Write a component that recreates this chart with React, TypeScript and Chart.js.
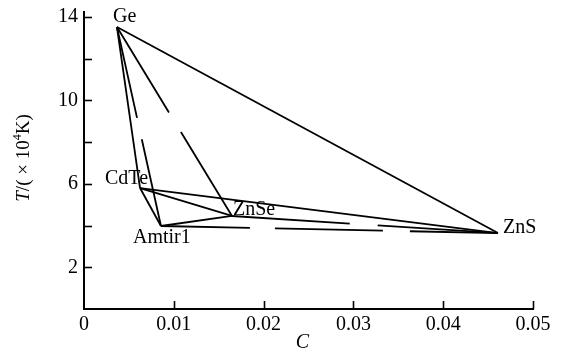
import React, { useEffect, useRef } from "react";
import { Chart, registerables } from "chart.js";

Chart.register(...registerables);

const materials = ["Ge", "CdTe", "Amtir1", "ZnSe", "ZnS"];
const cValues = [0.00367, 0.00624, 0.00857, 0.01648, 0.0461];
const tValues = [13.52, 5.8, 3.98, 4.46, 3.64];

const solidEdges = [
  ["Ge", "ZnS"],
  ["Ge", "CdTe"],
  ["CdTe", "Amtir1"],
  ["CdTe", "ZnSe"],
  ["CdTe", "ZnS"],
  ["Amtir1", "ZnSe"],
];
const dashedEdges = [
  ["Ge", "ZnSe"],
  ["Ge", "Amtir1"],
  ["ZnSe", "ZnS"],
  ["Amtir1", "ZnS"],
];

const xTickValues = [0, 0.01, 0.02, 0.03, 0.04, 0.05];
const xTickLabels = ["0", "0.01", "0.02", "0.03", "0.04", "0.05"];
const yTickValues = [2, 4, 6, 8, 10, 12, 14];
const yLabelValues = [2, 6, 10, 14];
const yLabels = ["2", "6", "10", "14"];

const FONT = "'Liberation Serif', 'Times New Roman', serif";

const dashStyles: Record<string, number[]> = {
  "Ge-ZnSe": [100, 23],
  "Ge-Amtir1": [93, 22],
  "ZnSe-ZnS": [118, 28],
  "Amtir1-ZnS": [89, 25, 108, 27],
};

const labelOffsets: Record<string, { dx: number; dy: number; align: CanvasTextAlign }> = {
  Ge: { dx: -4, dy: -5, align: "left" },
  CdTe: { dx: 8, dy: -4, align: "right" },
  Amtir1: { dx: -28, dy: 17, align: "left" },
  ZnSe: { dx: 1, dy: -1, align: "left" },
  ZnS: { dx: 5, dy: 0, align: "left" },
};

function pt(name: string) {
  const i = materials.indexOf(name);
  return { x: cValues[i], y: tValues[i] };
}

const overlay = {
  id: "overlay",
  afterDraw(chart: any) {
    const ctx = chart.ctx as CanvasRenderingContext2D;
    const xs = chart.scales.x;
    const ys = chart.scales.y;
    const area = chart.chartArea;
    ctx.save();
    ctx.strokeStyle = "#000";
    ctx.lineWidth = 1.6;
    yTickValues.forEach((v) => {
      const py = Math.round(ys.getPixelForValue(v)) + 0.5;
      ctx.beginPath();
      ctx.moveTo(area.left, py);
      ctx.lineTo(area.left + 8, py);
      ctx.stroke();
    });
    xTickValues.slice(1).forEach((v) => {
      const px = Math.round(xs.getPixelForValue(v)) + 0.5;
      ctx.beginPath();
      ctx.moveTo(px, area.bottom);
      ctx.lineTo(px, area.bottom - 8);
      ctx.stroke();
    });
    ctx.fillStyle = "#000";
    ctx.font = `20px ${FONT}`;
    ctx.textBaseline = "alphabetic";
    materials.forEach((m, i) => {
      const o = labelOffsets[m];
      const px = xs.getPixelForValue(cValues[i]);
      const py = ys.getPixelForValue(tValues[i]);
      ctx.textAlign = o.align;
      ctx.fillText(m, px + o.dx, py + o.dy);
    });
    ctx.textAlign = "center";
    ctx.font = `italic 20px ${FONT}`;
    ctx.fillText("C", (area.left + area.right) / 2 - 6, 348);
    const parts = [
      { t: "T", f: `italic 19px ${FONT}`, dy: 0 },
      { t: "/( × 10", f: `19px ${FONT}`, dy: 0 },
      { t: "4", f: `12px ${FONT}`, dy: -8 },
      { t: "K)", f: `19px ${FONT}`, dy: 0 },
    ];
    let total = 0;
    parts.forEach((p) => {
      ctx.font = p.f;
      total += ctx.measureText(p.t).width;
    });
    ctx.translate(29, 158 + total / 2);
    ctx.rotate(-Math.PI / 2);
    ctx.textAlign = "left";
    let x = 0;
    parts.forEach((p) => {
      ctx.font = p.f;
      ctx.fillText(p.t, x, p.dy);
      x += ctx.measureText(p.t).width;
    });
    ctx.restore();
  },
};

export default function App() {
  const ref = useRef<HTMLCanvasElement>(null);
  useEffect(() => {
    if (!ref.current) return;
    const datasets: any[] = [];
    solidEdges.forEach(([a, b]) => {
      datasets.push({
        data: [pt(a), pt(b)],
        borderColor: "#000",
        borderWidth: 1.8,
        showLine: true,
        pointRadius: 0,
        fill: false,
      });
    });
    dashedEdges.forEach(([a, b]) => {
      datasets.push({
        data: [pt(a), pt(b)],
        borderColor: "#000",
        borderWidth: 1.8,
        borderDash: dashStyles[`${a}-${b}`],
        showLine: true,
        pointRadius: 0,
        fill: false,
      });
    });
    const chart = new Chart(ref.current, {
      type: "scatter",
      data: { datasets },
      options: {
        animation: false,
        responsive: false,
        layout: { padding: { top: 12, right: 33, left: 0, bottom: 0 } },
        plugins: { legend: { display: false }, tooltip: { enabled: false } },
        scales: {
          x: {
            type: "linear",
            min: 0,
            max: 0.05,
            grid: { display: false, drawTicks: false },
            border: { display: true, color: "#000", width: 2 },
            afterBuildTicks: (s: any) => {
              s.ticks = xTickValues.map((v) => ({ value: v }));
            },
            afterFit: (s: any) => {
              s.height = 43;
              s.paddingLeft = 0;
              s.paddingRight = 0;
            },
            ticks: {
              color: "#000",
              padding: 4,
              maxRotation: 0,
              autoSkip: false,
              font: { family: FONT, size: 20 },
              callback: (v: any) => {
                const i = xTickValues.findIndex((t) => Math.abs(t - v) < 1e-9);
                return i >= 0 ? xTickLabels[i] : "";
              },
            },
          },
          y: {
            type: "linear",
            min: 0,
            max: 14.24,
            grid: { display: false, drawTicks: false },
            border: { display: true, color: "#000", width: 2 },
            afterBuildTicks: (s: any) => {
              s.ticks = yLabelValues.map((v) => ({ value: v }));
            },
            afterFit: (s: any) => {
              s.width = 84;
              s.paddingTop = 0;
              s.paddingBottom = 0;
            },
            ticks: {
              color: "#000",
              padding: 6,
              autoSkip: false,
              font: { family: FONT, size: 20, lineHeight: 1 },
              callback: (v: any) => {
                const i = yLabelValues.indexOf(v);
                return i >= 0 ? yLabels[i] : "";
              },
            },
          },
        },
      },
      plugins: [overlay],
    });
    return () => chart.destroy();
  }, []);
  return (
    <div style={{ position: "fixed", left: 0, top: 0, width: 566, height: 352, background: "#fff" }}>
      <canvas ref={ref} width={566} height={352} style={{ width: 566, height: 352 }} />
    </div>
  );
}
